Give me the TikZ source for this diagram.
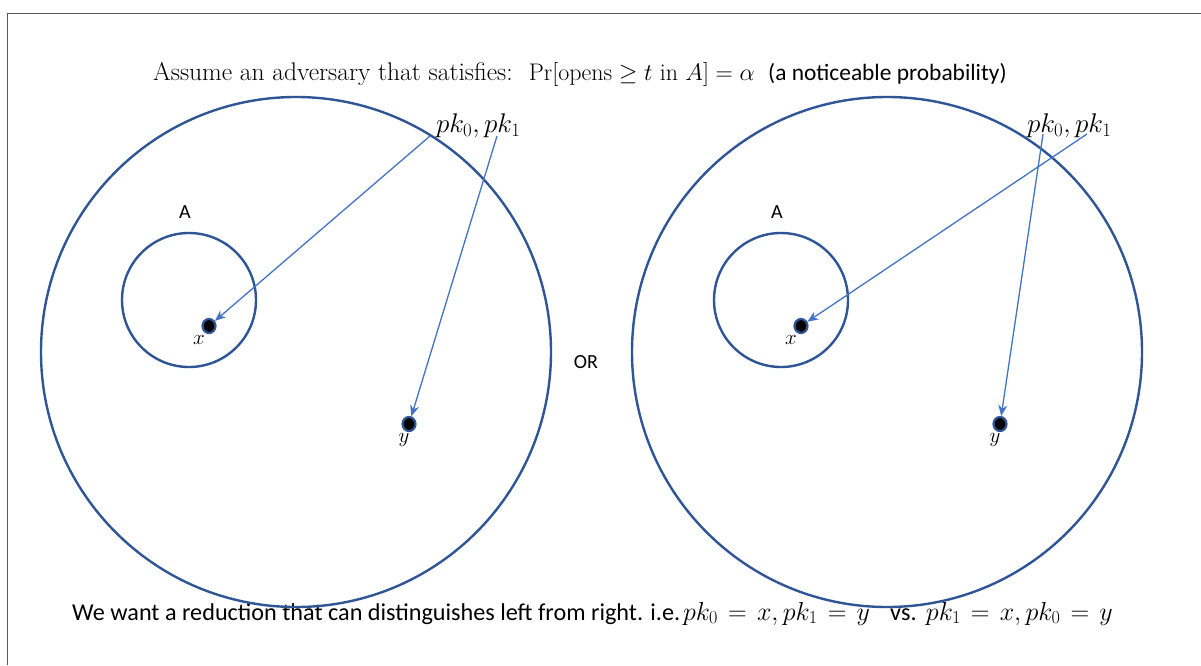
\RequirePackage{fix-cm}
\documentclass[tikz,border=0pt]{standalone}
\usepackage{fontspec}
\newfontfamily\calib{Carlito}
\usetikzlibrary{arrows.meta,shapes.geometric}
\definecolor{circ}{HTML}{2F5597}
\definecolor{arr}{HTML}{4472C4}
\definecolor{framec}{HTML}{595959}
\begin{document}
\begin{tikzpicture}[x=1pt,y=-1pt,
  bigcirc/.style={circle,draw=circ,line width=2.4pt,minimum size=510pt,inner sep=0pt},
  smallcirc/.style={circle,draw=circ,line width=2.4pt,minimum size=134pt,inner sep=0pt},
  dot/.style={ellipse,fill=black,draw=circ,line width=2.2pt,minimum width=13pt,minimum height=14pt,inner sep=0pt},
  ptr/.style={draw=arr,line width=1.3pt,-{Stealth[length=11pt,width=9pt]}},
  sanslbl/.style={font=\calib\fontsize{20}{24}\selectfont,inner sep=0pt},
  mathlbl/.style={font=\fontsize{21}{25}\selectfont,inner sep=0pt},
  pklbl/.style={font=\fontsize{27}{32}\selectfont,inner sep=0pt,anchor=base west},
  txt/.style={inner sep=0pt,anchor=base west}]
\useasboundingbox (0,0) rectangle (1201,665);
\draw[framec,line width=1.4pt] (7.5,665) -- (7.5,13.5) -- (1201,13.5);

% top text
\node[txt,font=\fontsize{25.5}{30}\selectfont] (top1) at (153,80)
  {Assume an adversary that satisfies:};
\node[txt,font=\fontsize{24}{29}\selectfont,anchor=base east] (top2) at (755,80)
  {$\mathrm{Pr}[\mathrm{opens}\geq t\ \mathrm{in}\ A]=\alpha$};
\node[txt,font=\calib\fontsize{23.4}{28}\selectfont] (top3) at (768,80)
  {(a noticeable probability)};

% bottom text
\node[txt,font=\calib\fontsize{24.2}{29}\selectfont] (bot1) at (72,620)
  {We want a reduction that can distinguishes left from right. i.e.};
\node[txt,font=\fontsize{26}{31}\selectfont] (bot2) at (683,620)
  {$\thickmuskip=7mu pk_0=x,pk_1=y$};
\node[txt,font=\calib\fontsize{24.2}{29}\selectfont] (bot3) at (890,620)
  {vs.};
\node[txt,font=\fontsize{26}{31}\selectfont,anchor=base east] (bot4) at (1113,620)
  {$\thickmuskip=7mu pk_1=x,pk_0=y$};

% left diagram
\node[bigcirc] (L) at (296,352) {};
\node[smallcirc] (LA) at (189,300) {};
\node[sanslbl] (LAl) at (185,212) {A};
\node[dot] (Lx) at (209,326) {};
\node[dot] (Ly) at (409,424) {};
\node[mathlbl] (Lxl) at (199,340) {$x$};
\node[mathlbl] (Lyl) at (404,440) {$y$};
\node[pklbl] (Lpk) at (436,132) {$pk_0,pk_1$};
\coordinate (Ls0) at (430,136);
\coordinate (Ls1) at (497,136);
\draw[ptr] (Ls0) -- (Lx);
\draw[ptr] (Ls1) -- (Ly);

\node[sanslbl] (or) at (586,362) {OR};

% right diagram
\node[bigcirc] (R) at (887,352) {};
\node[smallcirc] (RA) at (781,300) {};
\node[sanslbl] (RAl) at (777,212) {A};
\node[dot] (Rx) at (801,326) {};
\node[dot] (Ry) at (1000,424) {};
\node[mathlbl] (Rxl) at (791,340) {$x$};
\node[mathlbl] (Ryl) at (995,440) {$y$};
\node[pklbl] (Rpk) at (1027,132) {$pk_0,pk_1$};
\coordinate (Rs0) at (1087,134);
\coordinate (Rs1) at (1043,134);
\draw[ptr] (Rs0) -- (Rx);
\draw[ptr] (Rs1) -- (Ry);
\end{tikzpicture}
\end{document}
